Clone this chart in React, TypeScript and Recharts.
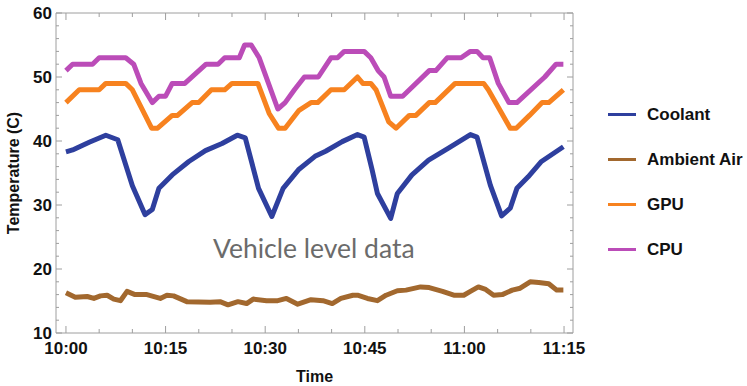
import React from 'react';
import { LineChart, Line, XAxis, YAxis } from 'recharts';

// time in minutes after 10:00, temperature in C
const coolant: [number, number][] = [
  [0, 38.3], [1, 38.6], [3.5, 39.8], [6, 40.9], [7.8, 40.2], [10, 33], [11.9, 28.5],
  [13, 29.3], [14, 32.6], [16, 34.7], [18.5, 36.8], [21, 38.5], [23.5, 39.6], [25.8, 40.9],
  [27, 40.5], [29, 32.6], [31, 28.2], [32.7, 32.6], [35, 35.5], [37.5, 37.6], [39.1, 38.4],
  [41.6, 39.9], [43.9, 41], [44.9, 40.6], [46.1, 35.5], [46.9, 31.8], [48.9, 27.9],
  [49.9, 31.8], [52.1, 34.7], [54.6, 37], [57.6, 38.9], [60.9, 41], [61.9, 40.6],
  [63.9, 33.1], [65.6, 28.3], [66.9, 29.5], [67.9, 32.6], [69.6, 34.4], [71.6, 36.8],
  [74.9, 39.1],
];

const ambient: [number, number][] = [
  [0, 16.3], [1.4, 15.6], [3.2, 15.7], [4.2, 15.4], [5.2, 15.8], [6.2, 15.9], [7.2, 15.3],
  [8.2, 15.05], [9.2, 16.5], [10.4, 16], [12.2, 16], [14.2, 15.4], [15.2, 15.9], [16.2, 15.8],
  [18.2, 14.9], [21.7, 14.8], [23.2, 14.9], [24.4, 14.4], [25.9, 14.9], [27.2, 14.6],
  [28.2, 15.3], [30.2, 15.05], [31.9, 15.05], [33.2, 15.4], [34.9, 14.5], [36.9, 15.2],
  [38.7, 15.05], [40.1, 14.6], [41.4, 15.4], [43.2, 15.9], [43.9, 15.9], [45.4, 15.4],
  [46.9, 15.05], [48.2, 15.9], [49.9, 16.6], [51.2, 16.7], [53.4, 17.2], [54.7, 17.1],
  [56.7, 16.5], [58.4, 15.9], [59.9, 15.9], [60.9, 16.5], [62.1, 17.2], [63.2, 16.8],
  [64.4, 15.9], [65.7, 16], [67.2, 16.7], [68.4, 17], [69.9, 18], [71.2, 17.9], [72.7, 17.7],
  [73.9, 16.7], [74.9, 16.7],
];

const gpu: [number, number][] = [
  [0, 46], [2, 48], [5, 48], [6, 49], [9, 49], [10, 48], [12.9, 42], [13.8, 42], [16, 44],
  [16.8, 44], [19, 46], [20, 46], [21.9, 48], [23.9, 48], [25, 49], [28.9, 49], [30.6, 44.3],
  [32, 42], [33, 42], [35.1, 44.8], [36.9, 46], [37.9, 46], [39.9, 48], [41.9, 48], [43.9, 50],
  [44.7, 49], [45.9, 49], [46.7, 48], [48.6, 43], [49.7, 42], [51.7, 44], [52.7, 44],
  [54.7, 46], [55.6, 46], [58.6, 49], [62.9, 49], [63.6, 48], [66.9, 42], [67.8, 42],
  [69.8, 44], [71.7, 46], [72.7, 46], [74.9, 48],
];

const cpu: [number, number][] = [
  [0, 51], [1, 52], [4, 52], [5, 53], [9, 53], [10.2, 52], [11.3, 49], [13, 46], [14, 47],
  [15, 47], [16, 49], [17.9, 49], [21.1, 52], [22.9, 52], [23.9, 53], [26.1, 53], [26.9, 55],
  [27.9, 55], [29.1, 53], [31.9, 45], [33, 46], [34.4, 48], [35.9, 50], [38, 50], [39.9, 53],
  [40.9, 53], [41.9, 54], [44.9, 54], [45.9, 53], [47, 51], [47.9, 50], [48.9, 47], [50.7, 47],
  [54.7, 51], [55.7, 51], [57.4, 53], [59.5, 53], [60.9, 54], [61.9, 54], [62.8, 53],
  [63.8, 53], [65.1, 49], [66.7, 46], [67.9, 46], [72.1, 50], [73.8, 52], [74.9, 52],
];

const xTicks = [0, 5, 10, 15, 20, 25, 30, 35, 40, 45, 50, 55, 60, 65, 70, 75];
const xTickLabels = ['10:00', '10:15', '10:30', '10:45', '11:00', '11:15'];
const yTicks = [10, 12, 14, 16, 18, 20, 22, 24, 26, 28, 30, 32, 34, 36, 38, 40, 42, 44, 46, 48, 50, 52, 54, 56, 58, 60];

const series = [
  { name: 'Coolant', data: coolant, color: '#2e3f9e' },
  { name: 'Ambient Air', data: ambient, color: '#a2682e' },
  { name: 'GPU', data: gpu, color: '#f7821f' },
  { name: 'CPU', data: cpu, color: '#bb4cb8' },
];

const FRAME = '#9e9e9e';
const FONT = '"Liberation Sans", Arial, sans-serif';

const toPoints = (d: [number, number][]) => d.map(([t, v]) => ({ t, v }));

const XTick = (props: any) => {
  const { x, y, payload, side } = props;
  const major = payload.value % 15 === 0;
  const len = major ? 7 : 4;
  const dir = side === 'top' ? 1 : -1;
  return (
    <g>
      <line x1={x} y1={y} x2={x} y2={y + dir * len} stroke={FRAME} strokeWidth={1} />
      {side === 'bottom' && major && (
        <text x={x} y={y + 21} textAnchor="middle" fontSize={17} fontWeight="bold" fontFamily={FONT} fill="#111">
          {xTickLabels[payload.value / 15]}
        </text>
      )}
    </g>
  );
};

const YTick = (props: any) => {
  const { x, y, payload, side } = props;
  const major = payload.value % 10 === 0;
  const len = major ? 6 : 3;
  const dir = side === 'left' ? 1 : -1;
  return (
    <g>
      <line x1={x} y1={y} x2={x + dir * len} y2={y} stroke={FRAME} strokeWidth={1} />
      {side === 'left' && major && (
        <text x={x - 4} y={y + 6} textAnchor="end" fontSize={17} fontWeight="bold" fontFamily={FONT} fill="#111">
          {payload.value}
        </text>
      )}
    </g>
  );
};

const App = () => {
  return (
    <div style={{ position: 'absolute', left: 0, top: 0, width: 747, height: 386, background: '#fff' }}>
      <LineChart width={747} height={386} margin={{ top: 12, right: 173, bottom: 0, left: 0 }}>
        <XAxis
          dataKey="t"
          type="number"
          domain={[-1.5, 76.35]}
          allowDataOverflow
          ticks={xTicks}
          interval={0}
          height={53}
          tickSize={0}
          tickMargin={0}
          stroke={FRAME}
          tick={(p: any) => <XTick {...p} side="bottom" />}
          label={{ value: 'Time', position: 'insideBottom', offset: 4, fontSize: 16, fontWeight: 'bold', fontFamily: FONT, fill: '#111' }}
        />
        <XAxis
          xAxisId="top"
          orientation="top"
          dataKey="t"
          type="number"
          domain={[-1.5, 76.35]}
          allowDataOverflow
          ticks={xTicks}
          interval={0}
          height={1}
          tickSize={0}
          tickMargin={0}
          stroke={FRAME}
          tick={(p: any) => <XTick {...p} side="top" />}
        />
        <YAxis
          type="number"
          domain={[10, 60]}
          allowDataOverflow
          ticks={yTicks}
          interval={0}
          width={56}
          tickSize={0}
          tickMargin={0}
          stroke={FRAME}
          tick={(p: any) => <YTick {...p} side="left" />}
          label={{ value: 'Temperature (C)', angle: -90, position: 'insideLeft', offset: 13, fontSize: 16, fontWeight: 'bold', fontFamily: FONT, fill: '#111', style: { textAnchor: 'middle' } }}
        />
        <YAxis
          yAxisId="right"
          orientation="right"
          type="number"
          domain={[10, 60]}
          allowDataOverflow
          ticks={yTicks}
          interval={0}
          width={1}
          tickSize={0}
          tickMargin={0}
          stroke={FRAME}
          tick={(p: any) => <YTick {...p} side="right" />}
        />
        {series.map((s) => (
          <Line
            key={s.name}
            name={s.name}
            data={toPoints(s.data)}
            dataKey="v"
            type="linear"
            stroke={s.color}
            strokeWidth={5}
            strokeLinejoin="round"
            dot={false}
            activeDot={false}
            isAnimationActive={false}
          />
        ))}
      </LineChart>
      <div style={{ position: 'absolute', left: 608, top: 92 }}>
        {series.map((s) => (
          <div key={s.name} style={{ height: 45, display: 'flex', alignItems: 'center' }}>
            <div style={{ width: 28, height: 3, background: s.color, marginRight: 11 }} />
            <span style={{ fontFamily: FONT, fontWeight: 'bold', fontSize: 17, color: '#111', whiteSpace: 'nowrap' }}>
              {s.name}
            </span>
          </div>
        ))}
      </div>
      <div
        style={{
          position: 'absolute',
          left: 213,
          top: 232,
          fontFamily: 'Lato, "Open Sans", sans-serif',
          fontSize: 26.5,
          color: '#6b6b6b',
          whiteSpace: 'nowrap',
        }}
      >
        Vehicle level data
      </div>
    </div>
  );
};

export default App;
